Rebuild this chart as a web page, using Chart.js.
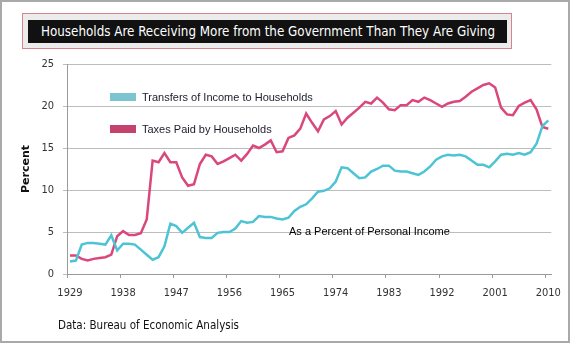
<!DOCTYPE html>
<html>
<head>
<meta charset="utf-8">
<script src="https://cdn.jsdelivr.net/npm/chart.js@4.4.1/dist/chart.umd.min.js"></script>
<style>
html,body{margin:0;padding:0;background:#fff;}
#page{position:relative;width:570px;height:343px;overflow:hidden;font-family:"Liberation Sans",Arial,sans-serif;}
#chart{position:absolute;left:0;top:0;}
#border{position:absolute;left:0;top:0;width:570px;height:343px;box-sizing:border-box;border:2px solid #a9a9a9;pointer-events:none;}
#titleOuter{position:absolute;left:22px;top:13px;width:490px;height:36px;box-sizing:border-box;border:1px solid #d4848e;background:#ececec;}
#titleInner{position:absolute;left:28px;top:20px;width:479px;height:23px;background:#111;color:#fff;line-height:23px;font-family:"DejaVu Sans Condensed","DejaVu Sans",sans-serif;font-size:14.5px;white-space:nowrap;overflow:hidden;}
#titleText{position:absolute;left:50%;top:0;transform-origin:0 0;}
#legend{position:absolute;left:110px;top:89px;}
.item{position:absolute;left:0;white-space:nowrap;height:16px;line-height:16px;font-size:11px;color:#1c1c2c;}
.swatch{display:inline-block;width:26px;height:8px;vertical-align:middle;margin-right:6px;position:relative;top:-1px;}
#note{position:absolute;left:289px;top:225px;font-size:11px;color:#000;white-space:nowrap;}
#source{position:absolute;left:58px;top:318px;font-family:"DejaVu Sans Condensed","DejaVu Sans",sans-serif;font-size:11.5px;color:#111;white-space:nowrap;}
</style>
</head>
<body>
<div id="page">
  <canvas id="chart" width="570" height="343"></canvas>
  <div id="titleOuter"></div>
  <div id="titleInner"><span id="titleText">Households Are Receiving More from the Government Than They Are Giving</span></div>
  <div id="legend"></div>
  <div id="note">As a Percent of Personal Income</div>
  <div id="source">Data: Bureau of Economic Analysis</div>
  <div id="border"></div>
</div>
<script>
// years 1929 - 2010
var years=[];
for(var yr=1929;yr<=2010;yr++){ years.push(String(yr)); }

var tickYears=["1929","1938","1947","1956","1965","1974","1983","1992","2001","2010"];

// percent of personal income
var transfers=[
  1.5,1.6,3.5,3.7,3.7,3.6,3.5,4.6,2.8,3.6,        // 1929-1938
  3.6,3.5,2.9,2.3,1.7,2.0,3.3,6.0,5.7,4.9,        // 1939-1948
  5.5,6.1,4.4,4.3,4.3,4.9,5.0,5.0,5.4,6.3,        // 1949-1958
  6.1,6.2,6.9,6.8,6.8,6.6,6.5,6.7,7.5,8.0,        // 1959-1968
  8.3,9.0,9.8,9.9,10.2,11.0,12.7,12.6,12.0,11.4,  // 1969-1978
  11.5,12.2,12.5,12.9,12.9,12.3,12.2,12.2,12.0,11.8, // 1979-1988
  12.2,12.8,13.6,14.0,14.2,14.1,14.2,14.0,13.5,13.0, // 1989-1998
  13.0,12.7,13.4,14.2,14.3,14.2,14.4,14.2,14.5,15.5, // 1999-2008
  17.6,18.3                                       // 2009-2010
];
var taxes=[
  2.2,2.2,1.8,1.6,1.8,1.9,2.0,2.3,4.5,5.1,        // 1929-1938
  4.65,4.65,4.85,6.5,13.5,13.3,14.4,13.3,13.3,11.5, // 1939-1948
  10.5,10.7,13.1,14.2,14.0,13.1,13.4,13.8,14.2,13.5, // 1949-1958
  14.3,15.3,15.0,15.4,15.9,14.5,14.6,16.2,16.5,17.3, // 1959-1968
  19.1,18.0,17.0,18.4,18.8,19.4,17.8,18.6,19.2,19.8, // 1969-1978
  20.5,20.3,21.0,20.4,19.6,19.5,20.1,20.1,20.7,20.5, // 1979-1988
  21.0,20.7,20.3,19.9,20.3,20.5,20.6,21.1,21.7,22.1, // 1989-1998
  22.5,22.7,22.2,19.8,19.0,18.9,20.0,20.4,20.7,19.6, // 1999-2008
  17.5,17.3                                       // 2009-2010
];

var seriesNames=["Transfers of Income to Households","Taxes Paid by Households"];
var lineColors=["#4dc4d4","#d9477c"];
var swatchColors=["#7cc5d0","#c4426c"];

var gridGray="#bdbdbd";
var axisGray="#9a9a9a";
var tickFont={family:"'DejaVu Sans Condensed','DejaVu Sans',sans-serif",size:11};

var chart=new Chart(document.getElementById("chart"),{
    type:'line',
    data:{
        labels:years,
        datasets:[
            {label:seriesNames[0],data:transfers,borderColor:lineColors[0],borderWidth:2.5,pointRadius:0,tension:0,fill:false},
            {label:seriesNames[1],data:taxes,borderColor:lineColors[1],borderWidth:2.5,pointRadius:0,tension:0,fill:false}
        ]
    },
    options:{
        responsive:false,
        animation:false,
        devicePixelRatio:1,
        layout:{padding:{left:0,right:15,top:64,bottom:0}},
        plugins:{legend:{display:false},tooltip:{enabled:false}},
        scales:{
            x:{
                offset:true,
                grid:{
                    offset:true,
                    drawOnChartArea:false,
                    tickLength:4,
                    color:function(ctx){ return (ctx.index%9===0)?axisGray:'rgba(0,0,0,0)'; }
                },
                border:{color:axisGray},
                ticks:{
                    autoSkip:false,maxRotation:0,minRotation:0,padding:9,
                    color:'#333',font:tickFont,
                    callback:function(v,i){ var l=years[i]; return tickYears.indexOf(l)>=0?l:''; }
                },
                afterFit:function(s){ s.height=69; }
            },
            y:{
                min:0,max:25,
                grid:{color:gridGray,tickLength:4},
                border:{color:axisGray},
                ticks:{stepSize:5,padding:9,color:'#333',font:tickFont},
                title:{display:true,text:'Percent',color:'#111',padding:{top:20,bottom:0},
                       font:{family:"'DejaVu Sans','Liberation Sans',sans-serif",size:11,weight:'bold'}},
                afterFit:function(s){ s.width=67; }
            }
        }
    }
});

// legend inside the plot, built from the datasets
var legendBox=document.getElementById("legend");
chart.data.datasets.forEach(function(ds,i){
    var d=document.createElement("div");
    d.className="item";
    d.style.top=(i*32)+"px";
    d.innerHTML='<span class="swatch" style="background:'+swatchColors[i]+'"></span>'+ds.label;
    legendBox.appendChild(d);
});

// squeeze the title into its black bar, centred
var tt=document.getElementById("titleText");
var w=tt.getBoundingClientRect().width;
tt.style.transform="scaleX("+(454/w)+") translateX(-50%)";
</script>
</body>
</html>
